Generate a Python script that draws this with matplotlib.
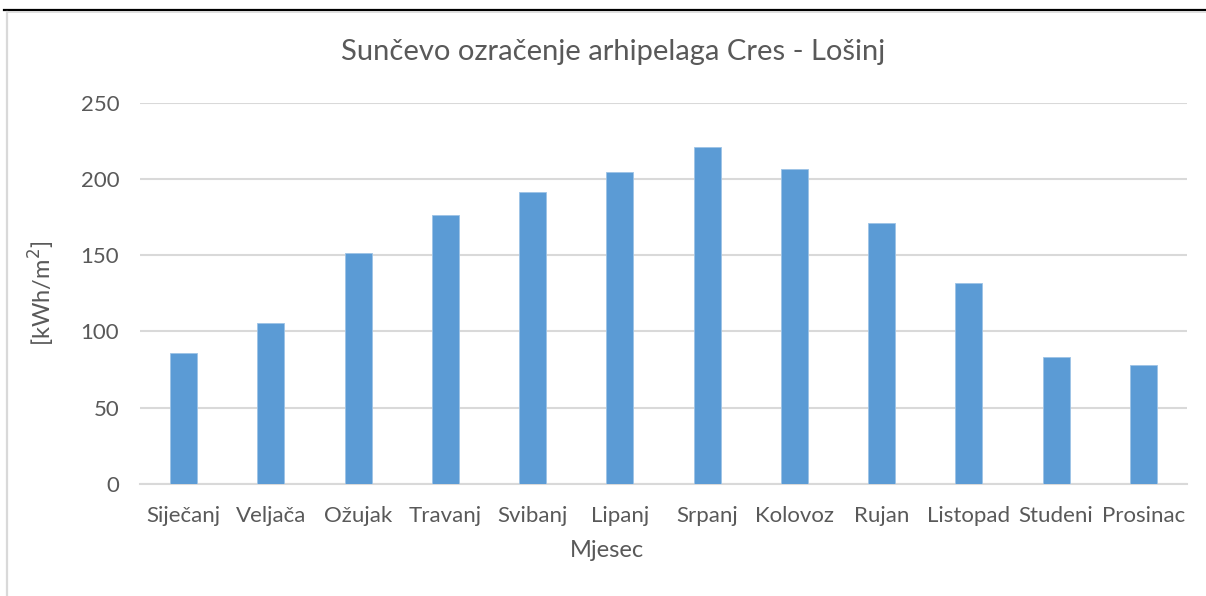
import matplotlib.pyplot as plt
from matplotlib.lines import Line2D

# Mjesečno sunčevo ozračenje [kWh/m2]
mjeseci = ["Siječanj", "Veljača", "Ožujak", "Travanj", "Svibanj", "Lipanj",
           "Srpanj", "Kolovoz", "Rujan", "Listopad", "Studeni", "Prosinac"]
ozracenje = [85.6, 105.6, 151.3, 176.4, 191.5, 204.4,
             220.8, 206.6, 171.4, 132.1, 83.0, 78.1]
y_ticks = [0, 50, 100, 150, 200, 250]

plt.rcParams['font.family'] = ['Lato', 'DejaVu Sans']
text_col = "#595959"

fig = plt.figure(figsize=(12.06, 5.96), dpi=100)
ax = fig.add_axes([0.1161, 0.1879, 0.8681, 0.6398])

x = range(len(mjeseci))
ax.bar(x, ozracenje, width=0.31, color="#5b9bd5", edgecolor="#9dc3e6",
       linewidth=0.6, zorder=3)

ax.set_xlim(-0.5, len(mjeseci) - 0.5)
ax.set_ylim(0, 250)
ax.set_yticks(y_ticks)
ax.set_xticks(list(x))
ax.set_xticklabels(mjeseci)
ax.tick_params(axis="both", length=0, labelsize=16, colors=text_col)
ax.tick_params(axis="x", pad=16)
ax.tick_params(axis="y", pad=15)
ax.grid(axis="y", color="#d9d9d9", linewidth=1.5, zorder=0)
for s in ["top", "right", "left"]:
    ax.spines[s].set_visible(False)
ax.spines["bottom"].set_color("#d9d9d9")
ax.spines["bottom"].set_linewidth(1.5)

# naslov i oznake osi centrirani na slici
fig.text(0.508, 0.913, "Sunčevo ozračenje arhipelaga Cres - Lošinj",
         fontsize=21, color=text_col, ha="center", va="center")
fig.text(0.503, 0.077, "Mjesec", fontsize=17, color=text_col,
         ha="center", va="center")
ax.set_ylabel("[kWh/m$^2$]", fontsize=17, color=text_col, labelpad=17)

# okvir dokumenta
fig.add_artist(Line2D([0.003, 1.0], [0.984, 0.984], color="black", linewidth=1.6))
fig.add_artist(Line2D([0.006, 1.0], [0.980, 0.980], color="#d9d9d9", linewidth=1.2))
fig.add_artist(Line2D([0.006, 0.006], [0.0, 0.980], color="#d9d9d9", linewidth=1.6))

fig.savefig("out.png", dpi=100)
